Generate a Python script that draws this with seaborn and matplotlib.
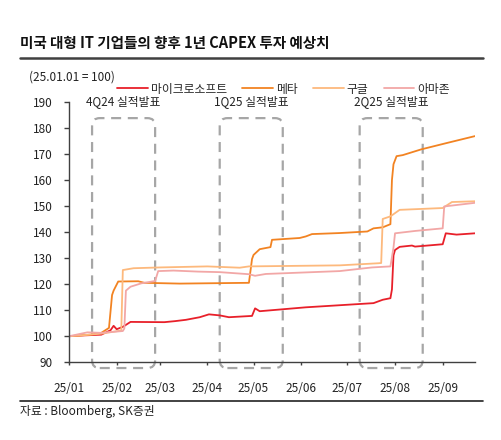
import numpy as np
import pandas as pd

import matplotlib.pyplot as plt
import matplotlib.dates as mdates
from matplotlib.patches import FancyBboxPatch
from matplotlib.lines import Line2D

import seaborn as sns

# ---------------------------------------------- data (25.01.01 = 100) ---------------------------------------------- #

msft_dates = ['2025-01-01', '2025-01-10', '2025-01-22', '2025-01-28', '2025-01-30', '2025-02-01', '2025-02-05',
              '2025-02-10', '2025-03-04', '2025-03-11', '2025-03-18', '2025-03-27', '2025-04-02', '2025-04-09',
              '2025-04-15', '2025-04-30', '2025-05-02', '2025-05-05', '2025-06-04', '2025-07-18', '2025-07-24',
              '2025-07-29', '2025-07-30', '2025-07-31', '2025-08-01', '2025-08-04', '2025-08-12', '2025-08-14',
              '2025-09-01', '2025-09-03', '2025-09-10', '2025-09-22']
msft_vals = [100.0, 100.3, 100.6, 102.3, 104.0, 102.7, 103.6,
             105.5, 105.4, 105.8, 106.3, 107.3, 108.4, 108.0,
             107.3, 107.8, 110.7, 109.6, 111.1, 112.7, 114.0,
             114.6, 118.0, 131.0, 133.1, 134.3, 134.8, 134.4,
             135.3, 139.5, 139.0, 139.5]

meta_dates = ['2025-01-01', '2025-01-15', '2025-01-22', '2025-01-27', '2025-01-29', '2025-01-30', '2025-02-02',
              '2025-02-15', '2025-02-19', '2025-03-14', '2025-04-28', '2025-04-30', '2025-05-01', '2025-05-05',
              '2025-05-12', '2025-05-13', '2025-05-31', '2025-06-04', '2025-06-08', '2025-06-26', '2025-07-14',
              '2025-07-18', '2025-07-24', '2025-07-29', '2025-07-30', '2025-07-31', '2025-08-02', '2025-08-06',
              '2025-08-18', '2025-09-04', '2025-09-22']
meta_vals = [100.0, 100.6, 101.3, 103.2, 115.8, 117.5, 121.0,
             121.1, 120.5, 120.2, 120.5, 129.6, 131.2, 133.4,
             134.2, 137.0, 137.7, 138.3, 139.2, 139.6, 140.2,
             141.4, 141.8, 143.0, 160.0, 166.0, 169.1, 169.5,
             171.7, 174.2, 176.8]

googl_dates = ['2025-01-01', '2025-01-10', '2025-01-22', '2025-02-04', '2025-02-05', '2025-02-12', '2025-03-01',
               '2025-04-01', '2025-04-22', '2025-04-28', '2025-06-26', '2025-07-21', '2025-07-23', '2025-07-24',
               '2025-07-29', '2025-08-04', '2025-09-01', '2025-09-07', '2025-09-22']
googl_vals = [100.0, 100.4, 101.0, 102.2, 125.4, 126.1, 126.4,
              126.8, 126.3, 126.8, 127.2, 128.0, 128.1, 145.0,
              146.0, 148.5, 149.2, 151.5, 151.8]

amzn_dates = ['2025-01-01', '2025-01-13', '2025-01-22', '2025-02-05', '2025-02-06', '2025-02-07', '2025-02-10',
              '2025-02-17', '2025-02-26', '2025-02-28', '2025-03-10', '2025-03-26', '2025-04-09', '2025-04-28',
              '2025-05-02', '2025-05-09', '2025-06-26', '2025-07-17', '2025-07-29', '2025-07-31', '2025-08-01',
              '2025-08-14', '2025-09-01', '2025-09-02', '2025-09-22']
amzn_vals = [100.0, 101.5, 101.3, 102.0, 103.0, 117.5, 119.0,
             120.3, 121.2, 125.0, 125.2, 124.8, 124.6, 123.8,
             123.2, 123.9, 125.0, 126.4, 126.8, 134.0, 139.5,
             140.4, 141.4, 149.8, 151.2]

names = ['마이크로소프트', '메타', '구글', '아마존']
colors = ['#E8202A', '#F28322', '#FDB97D', '#F2A7A6']

# earnings windows (dashed boxes) and their labels
window_starts = ['2025-01-16', '2025-04-09', '2025-07-09']
window_ends = ['2025-02-26', '2025-05-20', '2025-08-19']
window_labels = ['4Q24 실적발표', '1Q25 실적발표', '2Q25 실적발표']

title = '미국 대형 IT 기업들의 향후 1년 CAPEX 투자 예상치'
source = '자료 : Bloomberg, SK증권'

# ---------------------------------------------- build long frame ---------------------------------------------- #

frames = []
for n, d, v in zip(names, [msft_dates, meta_dates, googl_dates, amzn_dates],
                   [msft_vals, meta_vals, googl_vals, amzn_vals]):
    frames.append(pd.DataFrame({'date': pd.to_datetime(d), 'value': v, 'name': n}))
df = pd.concat(frames, ignore_index=True)

# ---------------------------------------------- plot ---------------------------------------------- #

sns.set_style('white')
plt.rcParams['font.family'] = ['Noto Sans CJK KR', 'DejaVu Sans']
plt.rcParams['axes.unicode_minus'] = False

fig = plt.figure(figsize=(5.02, 4.40), dpi=100)
ax = fig.add_axes([69 / 502, 1 - 362.3 / 440, 406 / 502, 260.6 / 440])

sns.lineplot(data=df, x='date', y='value', hue='name', hue_order=names,
             palette=dict(zip(names, colors)), linewidth=1.3, ax=ax, legend=True)

ax.set_xlim(pd.Timestamp('2025-01-01'), pd.Timestamp('2025-09-22'))
ax.set_ylim(90, 190)
ax.set_yticks(np.arange(90, 191, 10))
ax.xaxis.set_major_locator(mdates.MonthLocator())
ax.xaxis.set_major_formatter(mdates.DateFormatter('%y/%m'))
ax.set_xlabel('')
ax.set_ylabel('')

for s in ['top', 'right']:
    ax.spines[s].set_visible(False)
for s in ['left', 'bottom']:
    ax.spines[s].set_color('#404040')
    ax.spines[s].set_linewidth(1.0)
ax.tick_params(axis='y', which='major', left=True, length=3.5, width=1.0, color='#404040',
               pad=8.5, labelsize=8.5, labelcolor='#222222')
ax.tick_params(axis='x', which='major', bottom=True, length=2.5, width=1.0, color='#404040',
               pad=12, labelsize=8.5, labelcolor='#222222')

# dashed earnings boxes
px_per_day = 406 / 264.0
px_per_unit = 260.6 / 100
for st, en, lab in zip(window_starts, window_ends, window_labels):
    x0 = mdates.date2num(pd.Timestamp(st))
    x1 = mdates.date2num(pd.Timestamp(en))
    box = FancyBboxPatch((x0, 87.8), x1 - x0, 183.7 - 87.8,
                         boxstyle='round,pad=0,rounding_size=5',
                         mutation_aspect=px_per_day / px_per_unit,
                         transform=ax.transData, fill=False, edgecolor='#A6A6A6',
                         linewidth=1.6, linestyle=(0, (4.5, 3)), clip_on=False, zorder=1)
    ax.add_patch(box)
    ax.text((x0 + x1) / 2, 190, lab, ha='center', va='center', fontsize=8.5, color='#222222')

# legend on one row above the plot
handles, labels = ax.get_legend_handles_labels()
ax.get_legend().remove()
fig.legend(handles, labels, loc='center left', bbox_to_anchor=(117 / 502, 1 - 89 / 440),
           ncol=4, frameon=False, fontsize=8.5, handlelength=2.6, handletextpad=0.25,
           columnspacing=1.3, borderpad=0, borderaxespad=0)

# title, rules, unit note and source
fig.text(20 / 502, 1 - 43 / 440, title, fontsize=10.5, fontweight='bold', va='center', color='#111111')
fig.add_artist(Line2D([20 / 502, 483 / 502], [1 - 58.5 / 440] * 2, color='#404040', linewidth=1.8))
fig.text(29 / 502, 1 - 77 / 440, '(25.01.01 = 100)', fontsize=8.5, va='center', color='#222222')
fig.add_artist(Line2D([20 / 502, 483 / 502], [1 - 401 / 440] * 2, color='#222222', linewidth=1.2))
fig.text(20 / 502, 1 - 411 / 440, source, fontsize=8.5, va='center', color='#222222')

fig.savefig('out.png', dpi=100)
